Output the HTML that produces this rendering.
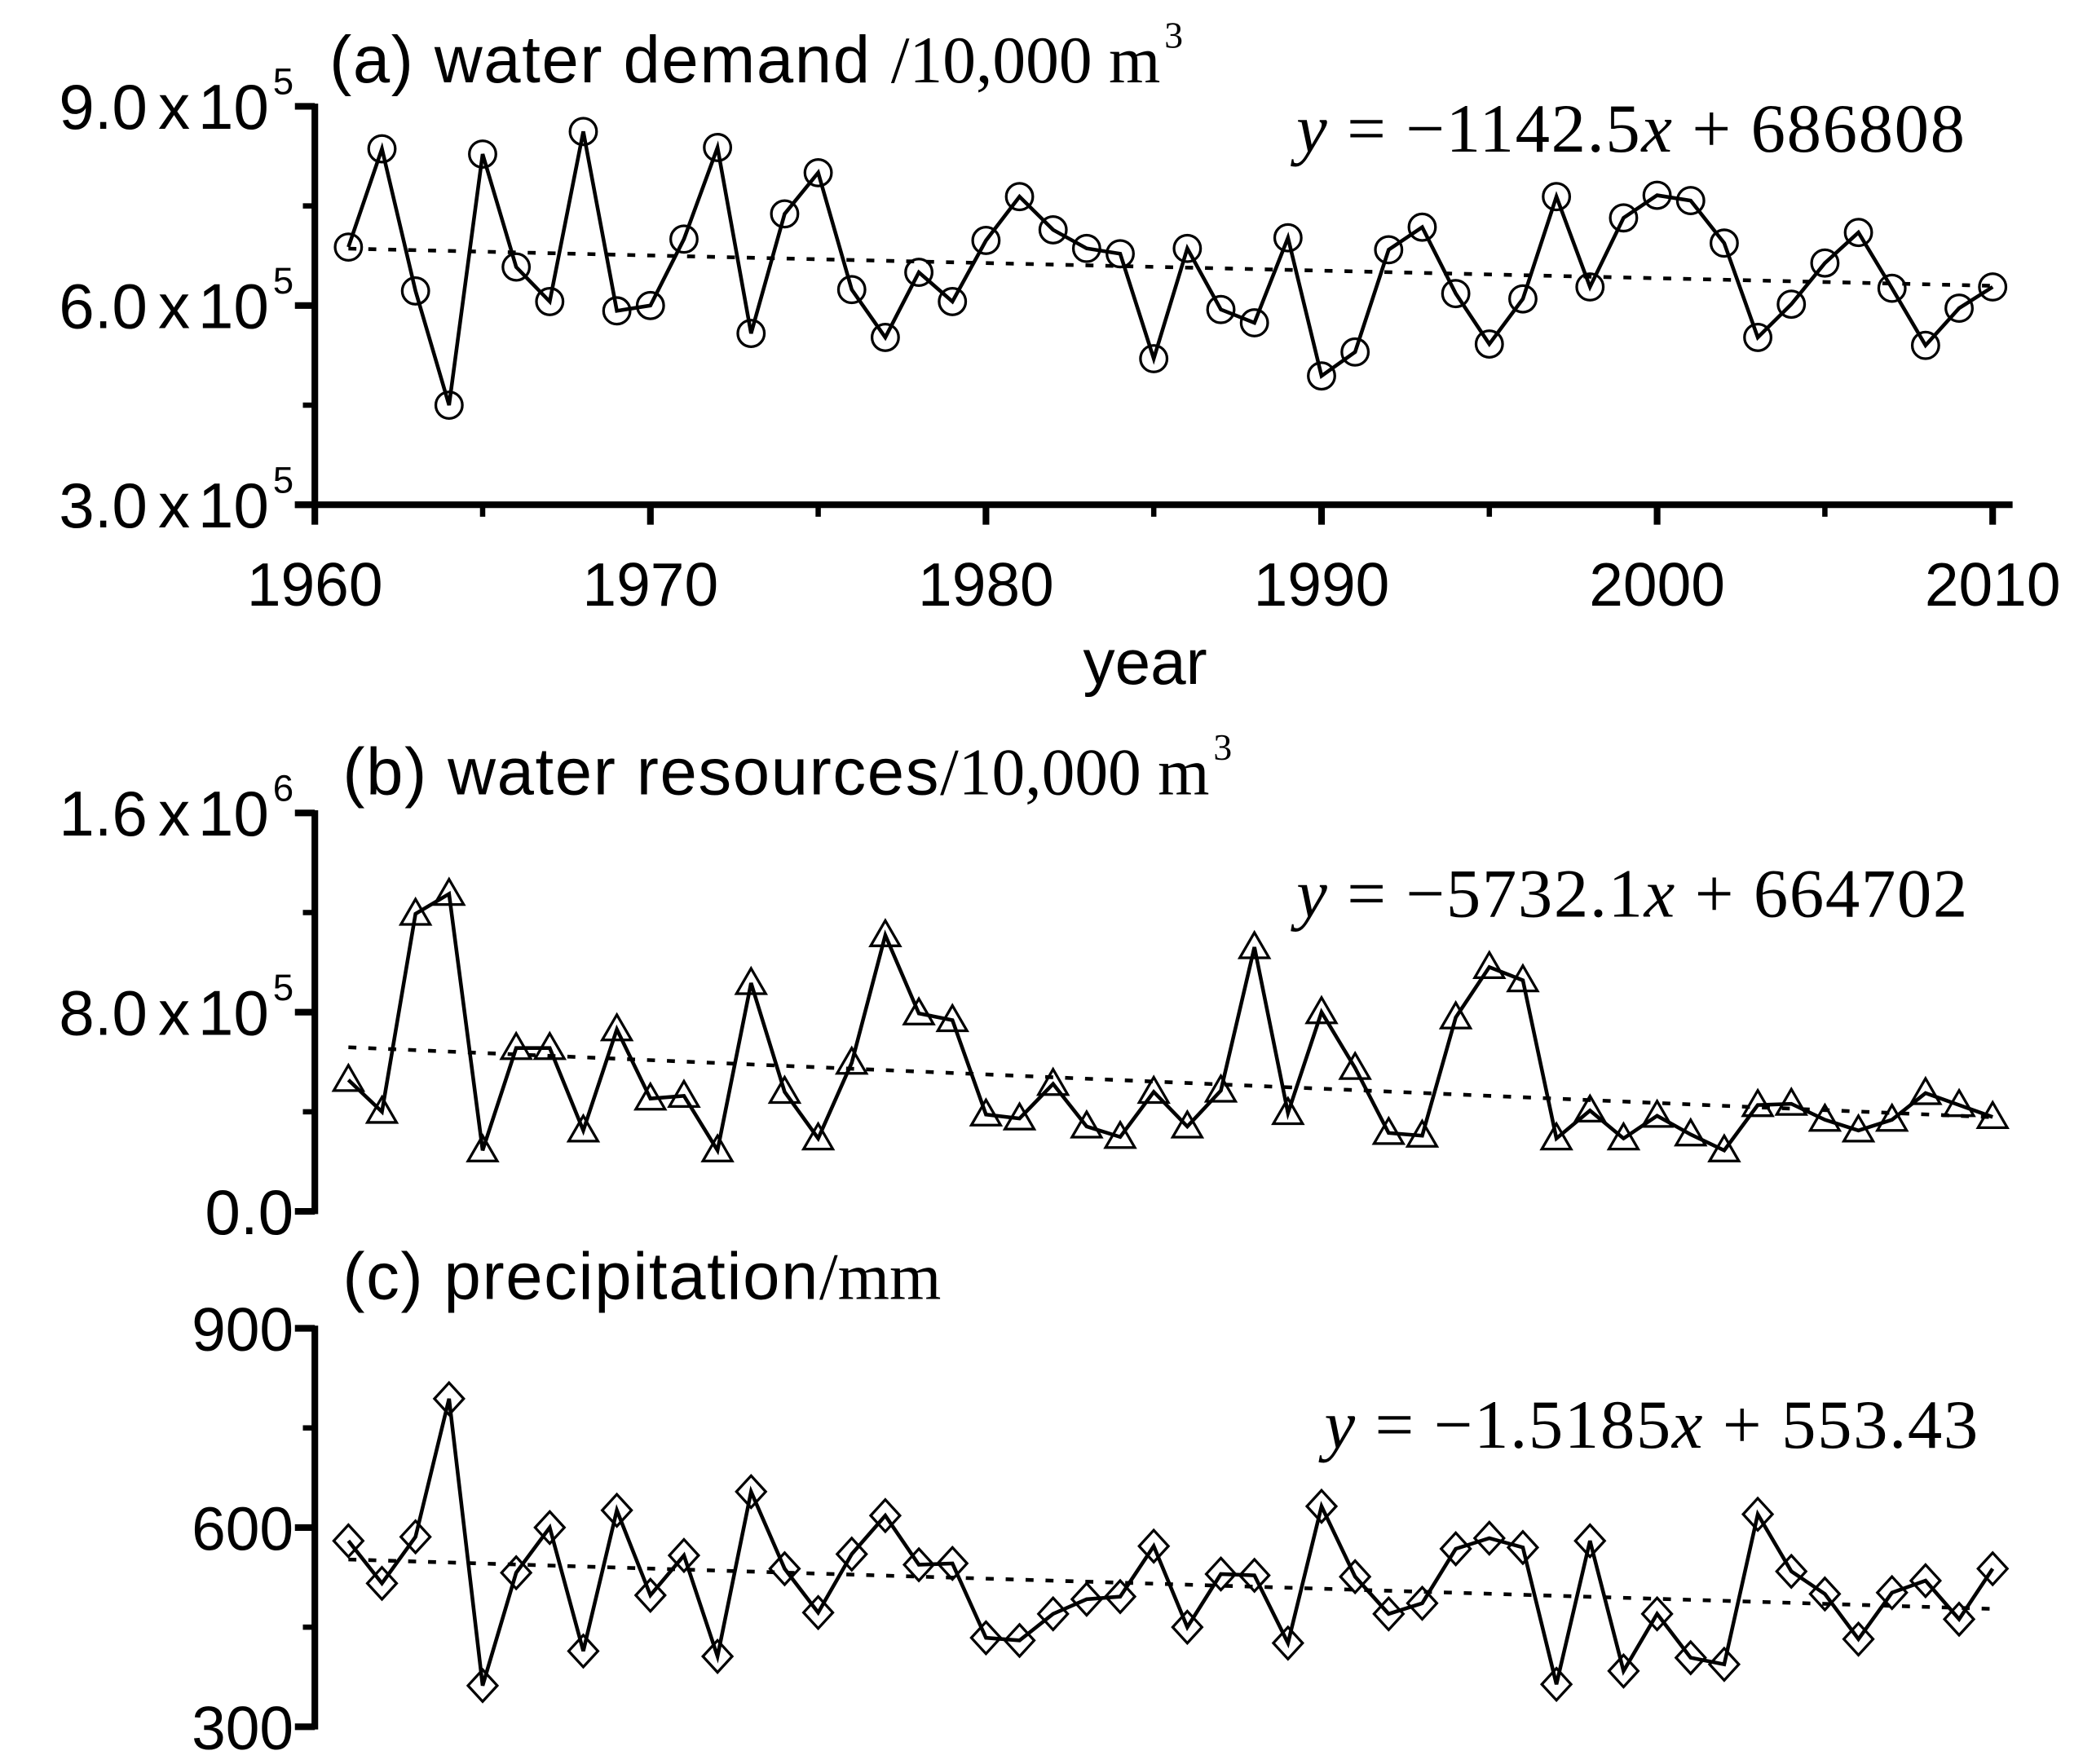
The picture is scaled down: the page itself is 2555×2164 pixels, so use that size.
<!DOCTYPE html>
<html><head><meta charset="utf-8"><style>
html,body{margin:0;padding:0;background:#fff;}
svg{display:block;}
.sans{font-family:"Liberation Sans",Arial,sans-serif;}
.serif{font-family:"Liberation Serif","Times New Roman",serif;}
</style></head><body>
<svg id="chart" width="2555" height="2164" viewBox="0 0 1568 1328" xmlns="http://www.w3.org/2000/svg"></svg>
<script>
const years = [];
for (let y = 1961; y <= 2010; y++) years.push(y);
const demandValues = [688000,836000,622000,450000,828000,658000,606000,862000,592000,600000,700000,838000,558000,738000,800000,624000,552000,650000,606000,698000,764000,714000,686000,678000,520000,686000,594000,574000,702000,494000,530000,684000,718000,618000,542000,610000,764000,628000,732000,766000,758000,694000,552000,602000,664000,710000,626000,540000,596000,628000];
const resourceValues = [528000,400000,1195000,1275000,245000,656000,656000,325000,731000,453000,464000,245000,917000,480000,293000,597000,1109000,795000,768000,389000,373000,512000,341000,299000,480000,341000,485000,1061000,395000,800000,576000,315000,304000,779000,981000,928000,293000,405000,293000,384000,309000,245000,427000,432000,368000,325000,368000,475000,427000,379000];
const precipValues = [580,516,586,794,362,532,600,414,626,498,558,406,654,538,472,560,618,544,546,434,430,470,492,496,572,450,530,528,426,632,526,470,486,568,584,570,364,580,384,470,404,394,620,534,500,432,502,520,462,538];
const demandTrend = [-1142.5, 686808];
const resourceTrend = [-5732.1, 664702];
const precipTrend = [-1.5185, 553.43];
const xTickLabels = [1960,1970,1980,1990,2000,2010];
const demandTicks = [300000,600000,900000];
const resourceTicks = [0,800000,1600000];
const precipTicks = [300,600,900];

const NS = "http://www.w3.org/2000/svg";
const svg = document.getElementById('chart');
const X0 = 237, X1 = 1500;
function xs(yr){ return X0 + (yr-1960)/(2010-1960)*(X1-X0); }
function mk(tag, attrs, parent){ const e=document.createElementNS(NS,tag); for(const k in attrs) e.setAttribute(k,attrs[k]); (parent||svg).appendChild(e); return e; }

function panel(cfg){
  const g = mk('g',{});
  
  
  const ys = v => cfg.yb - (v-cfg.min)/(cfg.max-cfg.min)*(cfg.yb-cfg.yt);
  const ax = mk('line',{x1:X0,y1:cfg.yt-2,x2:X0,y2:cfg.yb+(cfg.xaxis?0:2),stroke:'#000','stroke-width':5},g);
  
  
  cfg.ticks.forEach((t,i)=>{
    const y=ys(t);
    mk('line',{x1:X0-15,y1:y,x2:X0,y2:y,stroke:'#000','stroke-width':5},g);
    if(i<cfg.ticks.length-1){ const ym=ys((t+cfg.ticks[i+1])/2); mk('line',{x1:X0-9,y1:ym,x2:X0,y2:ym,stroke:'#000','stroke-width':4},g); }
    const tx = mk('text',{x:X0-16,y:y+17,'text-anchor':'end','font-size':cfg.sci?48:46,class:'sans'},g);
    
    
    if(cfg.sci && t!==0){
      const e=Math.floor(Math.log10(t)); const m=(t/Math.pow(10,e)).toFixed(1);
      tx.innerHTML = m+'<tspan dx="8">x</tspan><tspan dx="6">10</tspan><tspan dy="-26" dx="3" font-size="28">'+e+'</tspan>';
    } else tx.textContent = cfg.sci ? '0.0' : t;
  });
  if(cfg.xaxis){
    const xa = mk('line',{x1:X0-15,y1:cfg.yb,x2:1515,y2:cfg.yb,stroke:'#000','stroke-width':5},g);
    
    
    xTickLabels.forEach((t,i)=>{
      const x=xs(t);
      mk('line',{x1:x,y1:cfg.yb,x2:x,y2:cfg.yb+15,stroke:'#000','stroke-width':5},g);
      if(i<xTickLabels.length-1){ const xm=xs(t+5); mk('line',{x1:xm,y1:cfg.yb,x2:xm,y2:cfg.yb+9,stroke:'#000','stroke-width':4},g); }
      const tl = mk('text',{x:x,y:cfg.yb+76,'text-anchor':'middle','font-size':46,class:'sans'},g);
      
      
      tl.textContent=t;
    });
    const xt = mk('text',{x:862,y:515,'text-anchor':'middle','font-size':48,class:'sans'},g);
    
    
    xt.textContent='year';
  }
  const n=years.length;
  const tr = mk('line',{x1:xs(years[0]),y1:ys(cfg.trend[0]*1+cfg.trend[1]),x2:xs(years[n-1]),y2:ys(cfg.trend[0]*n+cfg.trend[1]),stroke:'#000','stroke-width':2.8,'stroke-dasharray':'6,9'},g);
  
  
  const pts = cfg.values.map((v,i)=>xs(years[i])+','+ys(v)).join(' ');
  const pl = mk('polyline',{points:pts,fill:'none',stroke:'#000','stroke-width':2.8},g);
  
  
  cfg.values.forEach((v,i)=>{
    const x=xs(years[i]), y=ys(v); let m;
    if(cfg.marker==='circle') m=mk('circle',{cx:x,cy:y,r:10,fill:'none',stroke:'#000','stroke-width':2},g);
    else if(cfg.marker==='triangle') m=mk('polygon',{points:`${x},${y-11} ${x+11},${y+8} ${x-11},${y+8}`,fill:'none',stroke:'#000','stroke-width':2},g);
    else m=mk('polygon',{points:`${x},${y-12} ${x+11},${y} ${x},${y+12} ${x-11},${y}`,fill:'none',stroke:'#000','stroke-width':2},g);
    
    
  });
  const tt = mk('text',{x:cfg.tx,y:cfg.ty,'font-size':50},g);
  
  
  tt.innerHTML = '<tspan class="sans" letter-spacing="1">'+cfg.title+'</tspan><tspan class="serif" font-size="50">'+cfg.unit+'</tspan>'+(cfg.sup?'<tspan class="serif" font-size="28" dy="-26" dx="3">3</tspan>':'');
  const eq = mk('text',{x:cfg.ex,y:cfg.ey,'font-size':52,class:'serif','text-anchor':'end','letter-spacing':'1'},g);
  
  
  const a=cfg.trend[0], b=cfg.trend[1];
  eq.innerHTML = '<tspan font-style="italic">y</tspan> = &#8722;'+Math.abs(a)+'<tspan font-style="italic">x</tspan> + '+b;
}

panel({name:'water-demand',values:demandValues,trend:demandTrend,ticks:demandTicks,min:300000,max:900000,yt:80,yb:380,sci:true,xaxis:true,marker:'circle',title:'(a) water demand ',unit:'/10,000 m',sup:true,tx:248,ty:62,ex:1480,ey:114});
panel({name:'water-resources',values:resourceValues,trend:resourceTrend,ticks:resourceTicks,min:0,max:1600000,yt:612,yb:912,sci:true,xaxis:false,marker:'triangle',title:'(b) water resources',unit:'/10,000 m',sup:true,tx:258,ty:598,ex:1482,ey:690});
panel({name:'precipitation',values:precipValues,trend:precipTrend,ticks:precipTicks,min:300,max:900,yt:1000,yb:1300,sci:false,xaxis:false,marker:'diamond',title:'(c) precipitation',unit:'/mm',sup:false,tx:258,ty:978,ex:1490,ey:1090});
</script>
</body></html>
